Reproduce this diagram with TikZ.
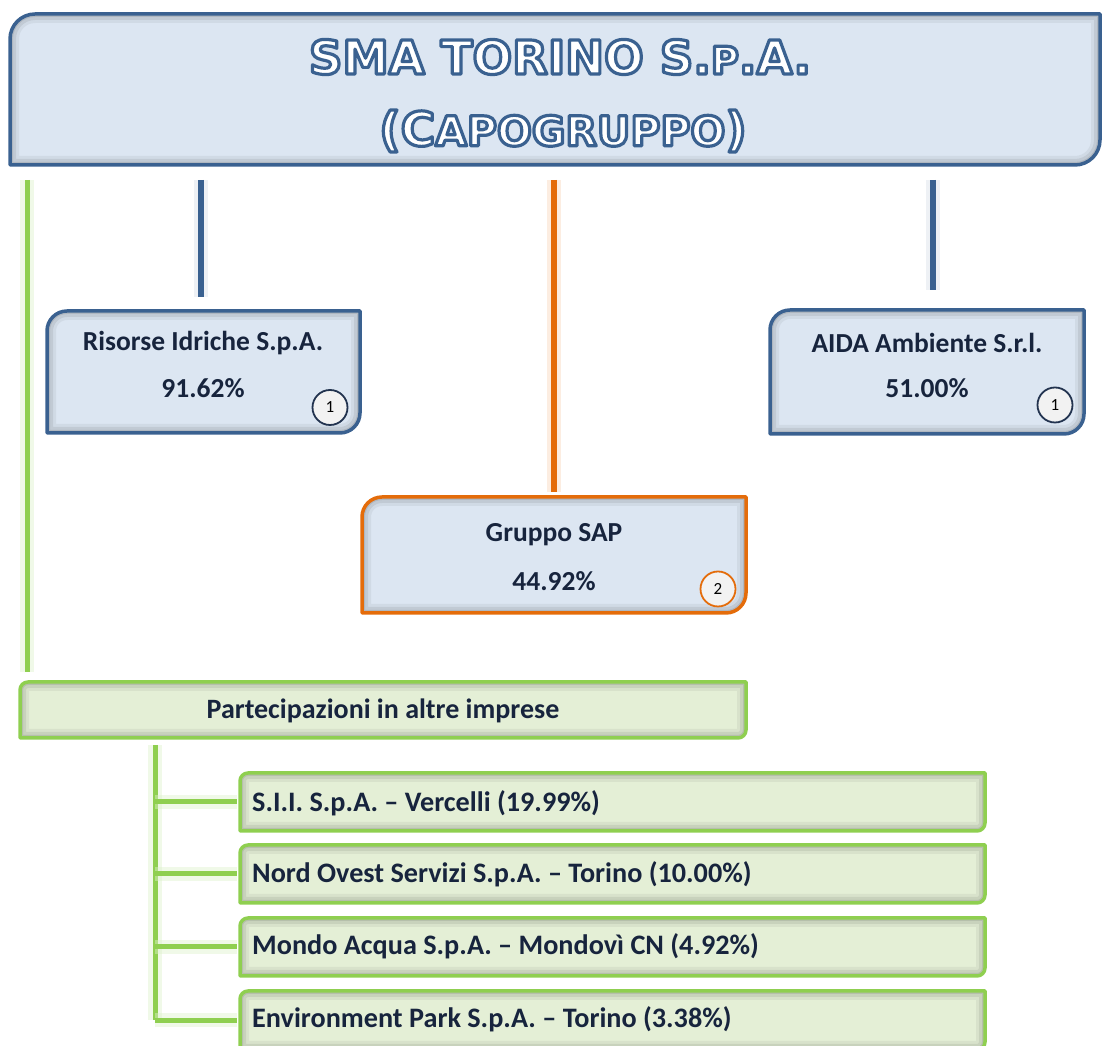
\documentclass[tikz,border=0pt]{standalone}
\usepackage{fontspec}
\setmainfont{Carlito}
\newfontfamily\titlefont{DejaVu Sans}
\usetikzlibrary{backgrounds}
\definecolor{navy}{HTML}{3A6190}
\definecolor{boxfill}{HTML}{DCE6F2}
\definecolor{txt}{HTML}{17243D}
\definecolor{orng}{HTML}{E46C0A}
\definecolor{grn}{HTML}{8FCF50}
\definecolor{gfill}{HTML}{E4EFD6}
\definecolor{circfill}{HTML}{F2F2F2}
\definecolor{circline}{HTML}{22334F}
\newcommand\outlined[1]{{\color{white}\special{pdf:literal direct 2 Tr 3.2 w 1 j 0.227 0.380 0.565 RG}#1\special{pdf:literal direct 0 Tr}}}
\newcommand\cbox[4]{%
 \fill[#3] (#1.south west) -- ([yshift=-#4]#1.north west) arc[start angle=180,end angle=90,radius=#4] -- (#1.north east) -- ([yshift=#4]#1.south east) arc[start angle=0,end angle=-90,radius=#4] -- cycle;
 \begin{scope}
 \clip (#1.south west) -- ([yshift=-#4]#1.north west) arc[start angle=180,end angle=90,radius=#4] -- (#1.north east) -- ([yshift=#4]#1.south east) arc[start angle=0,end angle=-90,radius=#4] -- cycle;
 \foreach \w/\o in {18/0.05,12/0.07,6/0.09}{
 \draw[black,opacity=\o,line width=\w pt] (#1.south west) -- ([yshift=-#4]#1.north west) arc[start angle=180,end angle=90,radius=#4] -- (#1.north east) -- ([yshift=#4]#1.south east) arc[start angle=0,end angle=-90,radius=#4] -- cycle;}
 \end{scope}
 \draw[#2,line width=3.5pt,line join=round] (#1.south west) -- ([yshift=-#4]#1.north west) arc[start angle=180,end angle=90,radius=#4] -- (#1.north east) -- ([yshift=#4]#1.south east) arc[start angle=0,end angle=-90,radius=#4] -- cycle;}
\tikzset{
 bx/.style={inner sep=0pt, outer sep=0pt},
 lbl/.style={text=txt, font=\fontsize{27.5}{27.5}\selectfont\bfseries, inner sep=0pt},
 sublbl/.style={text=txt, font=\fontsize{28.2}{28.2}\selectfont\bfseries, inner sep=0pt, anchor=west},
 numc/.style={circle, draw=#1, fill=circfill, line width=1.8pt, minimum size=35pt, inner sep=0pt, text=black, font=\fontsize{17}{17}\selectfont},
 bline/.style={draw=navy, line width=6pt, preaction={draw=navy!25, line width=14pt, draw opacity=0.35}},
 oline/.style={draw=orng, line width=6pt, preaction={draw=orng!30, line width=14pt, draw opacity=0.4}},
 gline/.style={draw=grn, line width=5pt, preaction={draw=grn!30, line width=14pt, draw opacity=0.45}},
}
\begin{document}
\begin{tikzpicture}[x=1pt,y=1pt]
\useasboundingbox (0,0) rectangle (1104,1046);
\clip (0,0) rectangle (1104,1046);
% box nodes
\node[bx, minimum width=1090pt, minimum height=151pt] (title) at (555,956.5) {};
\node[bx, minimum width=313pt, minimum height=122pt] (ri) at (203.5,674) {};
\node[bx, minimum width=314pt, minimum height=124pt] (aida) at (927,674) {};
\node[bx, minimum width=384pt, minimum height=116pt] (sap) at (554,491) {};
\node[bx, minimum width=726pt, minimum height=56pt] (part) at (383,336) {};
\node[bx, minimum width=745pt, minimum height=58pt] (b1) at (612.5,244) {};
\node[bx, minimum width=745pt, minimum height=58pt] (b2) at (612.5,172) {};
\node[bx, minimum width=745pt, minimum height=58pt] (b3) at (612.5,99) {};
\node[bx, minimum width=745pt, minimum height=59pt] (b4) at (612.5,25.5) {};
\begin{scope}[on background layer]
\cbox{title}{navy}{boxfill}{25pt}
\cbox{ri}{navy}{boxfill}{20pt}
\cbox{aida}{navy}{boxfill}{20pt}
\cbox{sap}{orng}{boxfill}{20pt}
\cbox{part}{grn}{gfill}{8pt}
\cbox{b1}{grn}{gfill}{8pt}
\cbox{b2}{grn}{gfill}{8pt}
\cbox{b3}{grn}{gfill}{8pt}
\cbox{b4}{grn}{gfill}{8pt}
\end{scope}
% title text
\node[inner sep=0pt] (t1) at (560,989) {\titlefont\bfseries\fontsize{46.5}{46.5}\selectfont\outlined{SMA TORINO S.{\fontsize{38}{38}\selectfont P}.A.}};
\node[inner sep=0pt] (t2) at (563,915) {\titlefont\bfseries\fontsize{47}{47}\selectfont\outlined{(C{\fontsize{41}{41}\selectfont APOGRUPPO})}};
% labels
\node[lbl] (ri1) at (203,703) {Risorse Idriche S.p.A.};
\node[lbl] (ri2) at (203,658) {91.62\%};
\node[lbl] (ai1) at (927,703) {AIDA Ambiente S.r.l.};
\node[lbl] (ai2) at (927,658) {51.00\%};
\node[lbl] (sa1) at (554,511) {Gruppo SAP};
\node[lbl] (sa2) at (554,465) {44.92\%};
\node[lbl, font=\fontsize{28}{28}\selectfont\bfseries] (pa1) at (383,335) {Partecipazioni in altre imprese};
\node[sublbl] (bt1) at (252,243) {S.I.I. S.p.A. – Vercelli (19.99\%)};
\node[sublbl] (bt2) at (252,172) {Nord Ovest Servizi S.p.A. – Torino (10.00\%)};
\node[sublbl] (bt3) at (252,100) {Mondo Acqua S.p.A. – Mondovì CN (4.92\%)};
\node[sublbl] (bt4) at (252,27) {Environment Park S.p.A. – Torino (3.38\%)};
% numbered circles
\node[numc=circline] (n1) at (330,638.5) {1};
\node[numc=circline] (n2) at (1055,641) {1};
\node[numc=orng] (n3) at (718,457) {2};
% connectors
\coordinate (gtop) at (27,881);
\coordinate (trunk) at (155,308);
\coordinate (ritop) at ([xshift=-3pt]ri.north);
\coordinate (aitop) at ([xshift=6pt]aida.north);
\draw[gline, shorten <=15pt, shorten >=10pt] (gtop) -- (gtop |- part.north);
\draw[bline, shorten <=15pt, shorten >=14pt] (title.south -| ritop) -- (ritop);
\draw[oline, shorten <=15pt, shorten >=5pt] (title.south -| sap.north) -- (sap.north);
\draw[bline, shorten <=15pt, shorten >=20pt] (title.south -| aitop) -- (aitop);
\draw[gline, shorten <=7pt] (trunk) -- (trunk |- b4.west);
\draw[gline] (trunk |- b1.west) -- ([xshift=-3pt]b1.west);
\draw[gline] (trunk |- b2.west) -- ([xshift=-3pt]b2.west);
\draw[gline] (trunk |- b3.west) -- ([xshift=-3pt]b3.west);
\draw[gline] (trunk |- b4.west) -- ([xshift=-3pt]b4.west);
\end{tikzpicture}
\end{document}
